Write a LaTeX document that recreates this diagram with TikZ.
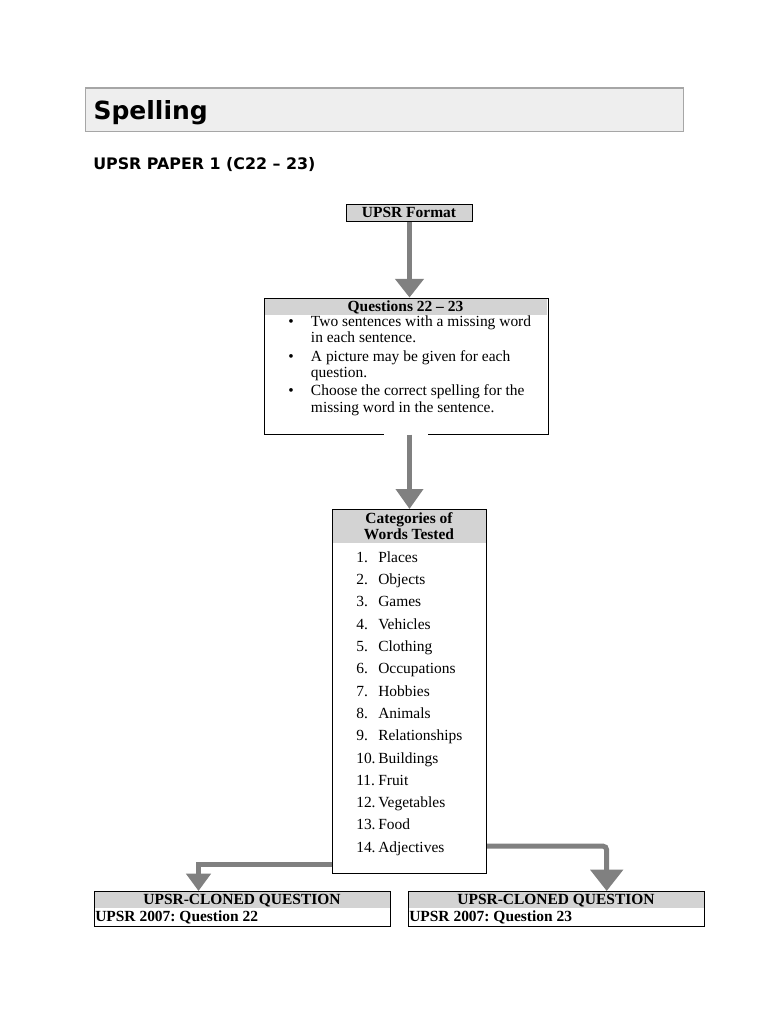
\documentclass[tikz,border=0pt]{standalone}
\usepackage{fontspec}
\setmainfont{Liberation Serif}
\newfontfamily\headfont{DejaVu Sans}
\usetikzlibrary{arrows.meta}
\definecolor{hdr}{HTML}{D3D3D3}
\definecolor{arr}{HTML}{808080}
\definecolor{ttlfill}{HTML}{EEEEEE}
\definecolor{ttlline}{HTML}{A6A6A6}
\frenchspacing
\begin{document}
\begin{tikzpicture}[x=0.75pt,y=-0.75pt,
  wh/.style 2 args={minimum width=#1*0.75pt, minimum height=#2*0.75pt},
  frame/.style={draw=black, line width=0.75pt, inner sep=0pt, anchor=north west},
  band/.style={fill=hdr, inner sep=0pt, anchor=north west},
  txt/.style={inner sep=0pt, font=\fontsize{11.6pt}{13pt}\selectfont},
  btxt/.style={txt, font=\fontsize{11.6pt}{13pt}\selectfont\bfseries},
  arrowst/.style={draw=arr, line width=3.75pt},
]
\useasboundingbox (0,0) rectangle (768,1024);

% title
\node[frame, draw=ttlline, line width=1.1pt, fill=ttlfill, wh={598}{43}] (title) at (85,87.5) {};
\node[anchor=base west, inner sep=0pt, font=\headfont\bfseries\fontsize{18.75pt}{20pt}\selectfont] (spell) at (93.3,119.8) {Spelling};
\node[anchor=base west, inner sep=0pt, font=\headfont\bfseries\fontsize{11.9pt}{13pt}\selectfont] (paper) at (93,169.3) {UPSR PAPER 1 (C22 – 23)};

% UPSR Format
\node[frame, fill=hdr, wh={126}{17}] (fmt) at (346,204) {};
\node[btxt, anchor=base] (fmtt) at (409,217.8) {UPSR Format};

% Questions box
\node[band, wh={283}{17}] (qh) at (264,297.5) {};
\node[frame, wh={284}{136}] (q) at (263.5,297.5) {};
\node[btxt, anchor=base] (qt) at (405.5,311) {Questions 22 – 23};
\node[txt, anchor=base] (b1) at (291,326.5) {\textbullet};
\node[txt, anchor=base west] (q1a) at (310.7,326.5) {Two sentences with a missing word};
\node[txt, anchor=base west] (q1b) at (310.7,342.8) {in each sentence.};
\node[txt, anchor=base] (b2) at (291,361.5) {\textbullet};
\node[txt, anchor=base west] (q2a) at (310.7,361.5) {A picture may be given for each};
\node[txt, anchor=base west] (q2b) at (310.7,377.5) {question.};
\node[txt, anchor=base] (b3) at (291,395.5) {\textbullet};
\node[txt, anchor=base west] (q3a) at (310.7,395.5) {Choose the correct spelling for the};
\node[txt, anchor=base west] (q3b) at (310.7,412) {missing word in the sentence.};
\draw[white, line width=1.5pt] (384,433.5) -- (428,433.5);

% Categories box
\node[band, wh={154}{34}] (ch) at (332,509) {};
\node[frame, wh={154}{364}] (cat) at (332,509) {};
\node[btxt, anchor=base] (ct1) at (409,523) {Categories of};
\node[btxt, anchor=base] (ct2) at (409,539.5) {Words Tested};
\foreach \n/\w [count=\i from 0] in {1./Places,2./Objects,3./Games,4./Vehicles,5./Clothing,6./Occupations,7./Hobbies,8./Animals,9./Relationships,10./Buildings,11./Fruit,12./Vegetables,13./Food,14./Adjectives}{
  \node[txt, anchor=base west] (c\i) at (356,562.3+22.3*\i) {\makebox[16.5pt][l]{\n}\w};
}

% bottom boxes
\node[band, wh={296}{17}] (lh) at (94,891) {};
\node[frame, wh={296}{35}] (cq1) at (94,891) {};
\node[btxt, anchor=base] (l1) at (242,904.8) {UPSR-CLONED QUESTION};
\node[btxt, anchor=base west] (l2) at (95,921.8) {UPSR 2007: Question 22};
\node[band, wh={296}{17}] (rh) at (408,891) {};
\node[frame, wh={296}{35}] (cq2) at (408,891) {};
\node[btxt, anchor=base] (r1) at (556,904.8) {UPSR-CLONED QUESTION};
\node[btxt, anchor=base west] (r2) at (409,921.8) {UPSR 2007: Question 23};

% arrows
\draw[arrowst, -{Triangle[length=14pt,width=21pt]}] (fmt.south) -- (fmt.south |- q.north);
\draw[arrowst, -{Triangle[length=15pt,width=20pt]}] (cat.north |- q.south) -- (cat.north);
\coordinate (lc) at (198.5,864);
\draw[arrowst, -{Triangle[length=13pt,width=18pt]}] (cat.west |- lc) -- (lc) -- (lc |- cq1.north);
\coordinate (rc) at (606.7,846);
\draw[arrowst, rounded corners=3pt, -{Triangle[length=16pt,width=24pt]}] (cat.east |- rc) -- (rc) -- (rc |- cq2.north);
\end{tikzpicture}
\end{document}
